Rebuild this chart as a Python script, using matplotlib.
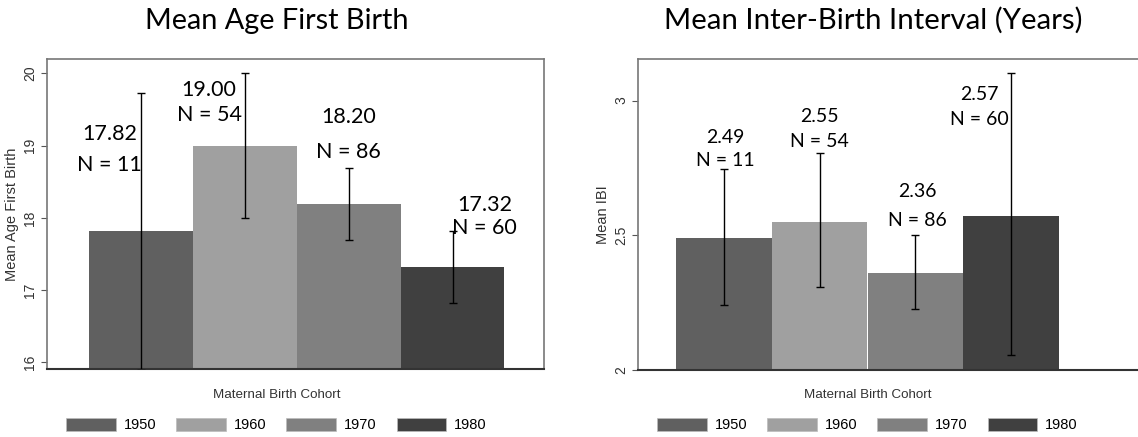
import matplotlib
matplotlib.use("Agg")
import matplotlib.pyplot as plt
from matplotlib.patches import Patch
import numpy as np

# data
cohorts = ["1950", "1960", "1970", "1980"]
bar_colors = ["#606060", "#a0a0a0", "#808080", "#404040"]
sample_n = [11, 54, 86, 60]

age_mean = [17.82, 19.00, 18.20, 17.32]
age_lo = [15.90, 18.00, 17.69, 16.82]
age_hi = [19.73, 20.00, 18.69, 17.82]

ibi_mean = [2.49, 2.55, 2.36, 2.57]
ibi_lo = [2.242, 2.307, 2.227, 2.054]
ibi_hi = [2.744, 2.806, 2.500, 3.101]

# hand placed label positions (x, baseline y of value line, baseline y of N line)
age_lab_x = [-0.30, 0.66, 2.00, 3.31]
age_lab_y1 = [19.08, 19.69, 19.31, 18.10]
age_lab_y2 = [18.65, 19.34, 18.83, 17.78]
ibi_lab_x = [0.02, 1.00, 2.02, 2.67]
ibi_lab_y1 = [2.843, 2.922, 2.642, 3.003]
ibi_lab_y2 = [2.756, 2.828, 2.535, 2.908]

W, H = 1138, 437
fig = plt.figure(figsize=(W / 100, H / 100), dpi=100)

lab_font = "Lato"
axis_font = "Liberation Sans"
grey_txt = "#333333"


def px_axes(l, r, b, t):
    return fig.add_axes([l / W, 1 - b / H, (r - l) / W, (b - t) / H])


def draw_panel(ax, means, lo, hi, lab_x, y1, y2, fmt, fs, ylim, xlim, yticks, yticklabels, ylabel):
    x = np.arange(len(means))
    ax.bar(x, means, width=1.0, color=bar_colors, bottom=0, zorder=2)
    means = np.array(means)
    yerr = [means - np.array(lo), np.array(hi) - means]
    ax.errorbar(x, means, yerr=yerr, fmt="none", ecolor="black", elinewidth=1.0,
                capsize=3, capthick=1.0, zorder=3)
    for i in range(len(means)):
        ax.text(lab_x[i], y1[i], fmt.format(means[i]), ha="center", va="baseline",
                fontsize=fs, family=lab_font, zorder=4)
        ax.text(lab_x[i], y2[i], "N = {}".format(sample_n[i]), ha="center", va="baseline",
                fontsize=fs, family=lab_font, zorder=4)
    ax.set_ylim(*ylim)
    ax.set_xlim(*xlim)
    ax.set_xticks([])
    ax.set_yticks(yticks)
    ax.set_yticklabels(yticklabels, rotation=90, va="center", family=axis_font,
                       fontsize=10, color=grey_txt)
    ax.tick_params(axis="y", length=4, width=0.8, color="#555555", pad=3)
    ax.set_ylabel(ylabel, family=axis_font, fontsize=10.5, color=grey_txt, labelpad=3)
    for s in ax.spines.values():
        s.set_color("#777777")
        s.set_linewidth(1.2)
    ax.spines["bottom"].set_color("#333333")
    ax.spines["bottom"].set_linewidth(1.5)


ax1 = px_axes(47, 544, 369, 59)
draw_panel(ax1, age_mean, age_lo, age_hi, age_lab_x, age_lab_y1, age_lab_y2, "{:.2f}", 15.5,
           (15.91, 20.2), (-0.90, 3.88), [16, 17, 18, 19, 20],
           ["16", "17", "18", "19", "20"], "Mean Age First Birth")

ax2 = px_axes(638, 1142, 370, 59)
draw_panel(ax2, ibi_mean, ibi_lo, ibi_hi, ibi_lab_x, ibi_lab_y1, ibi_lab_y2, "{:.2f}", 14,
           (2.0, 3.154), (-0.897, 4.367), [2, 2.5, 3], ["2", "2.5", "3"], "Mean IBI")

# titles
fig.text(276.5 / W, 1 - 29 / H, "Mean Age First Birth", ha="center", va="baseline",
         fontsize=20.8, family=lab_font)
fig.text(873 / W, 1 - 29 / H, "Mean Inter-Birth Interval (Years)", ha="center", va="baseline",
         fontsize=21.2, family=lab_font)

# x titles and legends
handles = [Patch(facecolor=c, edgecolor="#bbbbbb", linewidth=0.5) for c in bar_colors]
for cx in (276.5, 867.5):
    fig.text(cx / W, 1 - 395 / H, "Maternal Birth Cohort", ha="center", va="center",
             fontsize=9.6, family=axis_font, color=grey_txt)
    fig.legend(handles, cohorts, loc="center", bbox_to_anchor=(cx / W, 1 - 425 / H),
               ncol=4, frameon=False, handlelength=3.4, handleheight=0.96,
               handletextpad=0.55, columnspacing=1.37,
               prop={"family": axis_font, "size": 10.5})

fig.savefig("out.png", dpi=100)
plt.close(fig)
